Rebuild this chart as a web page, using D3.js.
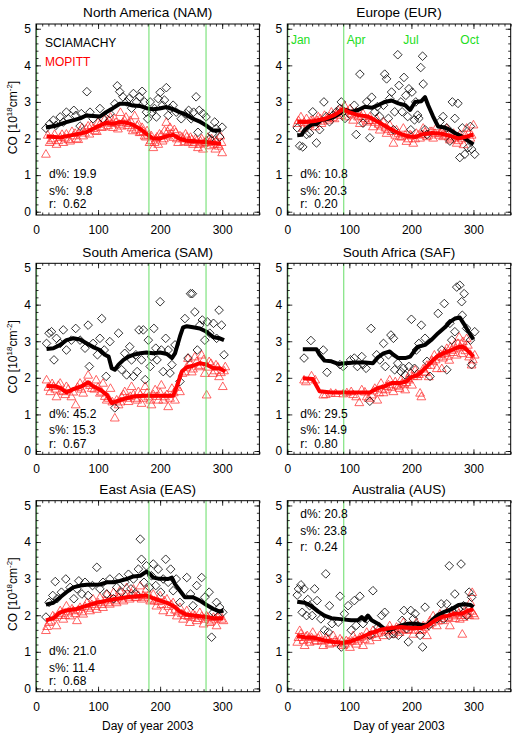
<!DOCTYPE html>
<html><head><meta charset="utf-8">
<script src="https://cdn.jsdelivr.net/npm/d3@7"></script>
<style>
body{margin:0;background:#fff;}
text{font-family:"Liberation Sans",Arial,Helvetica,sans-serif;}
</style>
</head><body>
<svg id="chart" width="517" height="736"></svg>
<script>
// ---------- DATA ----------
const regionTitles = ["North America (NAM)","Europe (EUR)","South America (SAM)","South Africa (SAF)","East Asia (EAS)","Australia (AUS)"];
const statD = ["19.9","10.8","45.2","29.5","21.0","20.8"];
const statS = [" 9.8","20.3","15.3","14.9","11.4","23.8"];
const statR = ["0.62","0.20","0.67","0.80","0.68","0.24"];
const greenDays = [[182,274],[91],[182,274],[91],[182,274],[91]];
const monthNames = ["Jan","Apr","Jul","Oct"];
const monthDays = [1,91,182,274];
const xTicks = [0,100,200,300];
const yTicks = [0,1,2,3,4,5];
const legendNames = ["SCIAMACHY","MOPITT"];

// NAM
const namSciaLine = [[16,2.3],[30,2.34],[49,2.45],[71,2.55],[81,2.63],[103,2.6],[113,2.72],[124,2.83],[135,2.95],[146,2.95],[156,2.9],[167,2.89],[178,2.83],[189,2.8],[199,2.82],[210,2.86],[221,2.8],[231,2.72],[242,2.65],[253,2.54],[263,2.47],[274,2.36],[285,2.22],[298,2.22]];
const namMopLine = [[17,2.06],[39,2.03],[60,2.1],[81,2.17],[97,2.31],[113,2.43],[124,2.4],[135,2.45],[146,2.43],[156,2.38],[167,2.27],[178,2.13],[189,2.0],[199,2.0],[210,2.06],[221,2.1],[231,2.0],[242,1.94],[263,1.92],[285,1.88],[298,1.86]];
const namSciaPts = [[16,2.28],[22,2.4],[28,2.5],[32,2.36],[39,2.59],[44,2.45],[49,2.72],[52,2.54],[61,2.77],[64,2.63],[71,2.34],[73,2.68],[82,3.28],[87,2.72],[92,2.54],[103,2.82],[108,2.54],[119,2.68],[127,2.95],[131,3.44],[135,3.28],[140,3.14],[146,3.0],[150,3.09],[154,2.83],[157,3.23],[162,3.0],[167,3.14],[171,3.29],[175,3.0],[178,2.72],[180,2.54],[184,3.0],[187,2.72],[191,2.82],[194,2.59],[197,3.09],[200,3.26],[204,2.91],[207,3.05],[210,3.39],[213,2.63],[216,2.82],[221,2.91],[226,2.72],[234,2.54],[242,2.68],[246,2.77],[250,2.54],[254,2.72],[258,3.14],[261,2.17],[263,2.77],[269,2.68],[274,2.59],[280,1.99],[284,2.13],[288,2.45],[290,2.27],[296,2.04],[300,2.31]];
const namMopPts = [[16,1.58],[22,1.9],[28,2.0],[33,1.85],[39,2.04],[44,1.9],[49,2.13],[55,1.94],[60,2.08],[65,2.0],[71,2.22],[76,2.08],[81,2.27],[86,2.13],[89,2.36],[95,2.22],[100,2.45],[106,2.31],[111,2.54],[116,2.36],[120,2.59],[124,2.31],[129,2.45],[132,2.27],[136,2.72],[140,2.45],[145,2.59],[148,2.36],[152,2.5],[156,2.22],[159,2.63],[163,2.36],[167,2.17],[171,2.31],[175,2.08],[179,2.22],[183,1.9],[186,2.08],[189,1.76],[193,2.0],[197,1.85],[199,2.13],[204,1.94],[207,2.22],[210,2.45],[213,2.08],[216,2.31],[221,2.04],[225,2.17],[229,1.9],[232,2.08],[237,2.0],[241,2.13],[245,1.9],[249,2.04],[253,1.85],[257,2.0],[261,1.76],[265,1.94],[269,1.72],[273,1.9],[277,2.04],[281,1.81],[285,1.94],[289,1.72],[293,1.85],[297,2.08],[300,1.62]];
const namMopPtsB = [[19,2.1],[25,1.95],[30,2.12],[36,1.95],[42,2.12],[47,2.02],[52,1.98],[58,2.2],[63,2.15],[68,1.98],[74,2.3],[79,2.16],[84,2.35],[92,2.28],[98,2.2],[103,2.4],[109,2.33],[114,2.45],[118,2.5],[122,2.42],[127,2.55],[134,2.4],[138,2.35],[143,2.5],[150,2.42],[154,2.3],[161,2.25],[165,2.4],[169,2.18],[173,2.2],[177,2.05],[181,2.1],[185,1.95],[191,1.9],[195,2.05],[202,2.1],[206,2.0],[212,2.2],[218,2.15],[223,2.25],[227,2.0],[235,2.05],[239,1.92],[243,2.05],[247,1.95],[251,1.98],[255,1.9],[259,1.95],[263,1.85],[267,2.0],[271,1.88],[275,1.95],[279,1.9],[283,2.0],[287,1.85],[291,1.95],[295,1.8],[299,1.9]];

// EUR
const eurSciaLine = [[16,2.09],[23,2.1],[28,2.24],[39,2.38],[47,2.39],[55,2.51],[66,2.54],[76,2.6],[85,2.69],[90,2.8],[103,2.73],[114,2.78],[125,2.87],[136,2.84],[146,2.91],[157,3.0],[168,3.04],[179,2.96],[190,2.91],[198,2.78],[206,3.0],[216,3.02],[222,3.13],[227,2.91],[235,2.6],[243,2.33],[254,2.3],[262,2.24],[270,2.15],[281,2.06],[292,1.93],[300,1.84]];
const eurMopLine = [[16,2.46],[28,2.45],[44,2.48],[60,2.54],[76,2.64],[90,2.8],[98,2.73],[114,2.64],[130,2.6],[146,2.46],[163,2.29],[179,2.15],[195,2.06],[206,2.04],[216,2.11],[233,2.15],[249,2.13],[265,2.06],[276,2.0],[286,2.04],[300,2.11]];
const eurSciaPts = [[16,2.29],[20,1.8],[25,1.77],[31,2.11],[36,2.15],[41,2.73],[47,1.88],[52,2.24],[59,3.0],[63,2.6],[68,2.46],[74,2.64],[79,2.73],[85,2.82],[87,3.0],[90,2.73],[93,2.55],[108,2.91],[111,2.11],[117,3.76],[122,2.42],[128,3.0],[133,2.02],[136,3.13],[141,2.73],[145,2.87],[149,2.6],[155,2.91],[157,3.76],[160,3.63],[163,2.55],[165,3.09],[168,3.27],[171,2.24],[173,2.73],[178,4.29],[180,3.45],[183,3.0],[185,2.73],[188,3.67],[191,3.18],[194,2.6],[196,3.36],[199,2.24],[201,3.27],[205,2.51],[207,3.0],[210,2.64],[212,2.55],[215,3.94],[218,4.25],[219,3.49],[222,2.24],[225,2.11],[246,2.46],[251,2.6],[257,2.29],[262,1.93],[266,3.0],[270,2.55],[275,2.96],[278,1.48],[282,2.29],[286,1.57],[291,1.75],[295,2.33],[297,1.71],[302,1.57]];
const eurMopPts = [[16,2.42],[22,2.6],[25,2.29],[31,2.55],[36,2.38],[41,2.51],[45,2.33],[50,2.6],[55,2.42],[60,2.64],[66,2.51],[71,2.73],[76,2.55],[82,2.78],[87,2.64],[92,2.91],[95,2.6],[101,2.82],[106,2.51],[111,2.73],[117,2.42],[122,2.69],[128,2.46],[133,2.6],[138,2.33],[144,2.55],[149,2.24],[155,2.46],[160,2.15],[165,2.38],[171,1.88],[176,2.24],[181,2.06],[187,2.29],[192,1.93],[198,2.11],[203,1.88],[208,2.15],[214,2.02],[219,2.29],[225,2.06],[230,2.2],[235,2.02],[241,2.33],[246,2.15],[251,2.06],[257,2.29],[262,1.97],[268,2.15],[273,1.88],[278,2.11],[284,1.84],[289,2.29],[295,2.02],[300,2.38]];
const eurMopPtsB = [[18,2.5],[27,2.45],[33,2.4],[38,2.5],[43,2.45],[48,2.5],[53,2.55],[57,2.48],[63,2.55],[68,2.6],[73,2.58],[79,2.68],[84,2.7],[89,2.8],[97,2.75],[103,2.68],[108,2.65],[114,2.6],[119,2.62],[125,2.55],[131,2.5],[136,2.5],[141,2.45],[147,2.4],[152,2.35],[158,2.3],[163,2.25],[168,2.2],[174,2.1],[179,2.15],[184,2.05],[190,2.1],[195,2.0],[200,2.08],[206,2.0],[211,2.1],[217,2.12],[222,2.18],[228,2.1],[233,2.2],[238,2.15],[244,2.1],[249,2.2],[254,2.1],[260,2.05],[265,2.0],[270,2.05],[276,1.95],[281,2.0],[287,2.1],[292,2.15],[297,2.1]];

// SAM
const samSciaLine = [[17,2.79],[28,2.81],[39,2.9],[49,3.03],[60,3.08],[71,3.05],[82,2.94],[92,2.84],[103,2.76],[111,2.63],[117,2.58],[122,2.26],[127,2.22],[133,2.36],[141,2.49],[149,2.58],[157,2.63],[168,2.67],[178,2.69],[189,2.67],[200,2.69],[211,2.65],[219,2.54],[224,2.67],[232,3.13],[237,3.38],[243,3.41],[253,3.38],[264,3.35],[275,3.26],[286,3.11],[296,3.08],[303,3.03]];
const samMopLine = [[17,1.78],[31,1.77],[39,1.72],[49,1.6],[60,1.69],[74,1.77],[84,1.88],[92,1.77],[103,1.68],[114,1.54],[122,1.31],[130,1.36],[141,1.42],[157,1.49],[173,1.51],[189,1.51],[205,1.51],[221,1.51],[227,1.77],[235,2.17],[243,2.29],[253,2.33],[264,2.4],[275,2.36],[286,2.26],[296,2.26],[305,2.17]];
const samSciaPts = [[17,2.94],[21,3.22],[25,3.26],[29,2.49],[33,3.08],[39,2.94],[44,3.31],[49,2.76],[57,3.03],[64,3.35],[71,3.03],[79,2.81],[84,3.44],[86,2.31],[92,2.94],[99,2.63],[103,3.08],[106,3.62],[110,2.76],[113,2.04],[119,2.99],[127,1.18],[133,3.22],[138,2.22],[143,2.67],[146,2.08],[151,2.85],[154,2.49],[157,2.04],[161,2.63],[163,2.17],[166,3.31],[170,2.49],[173,3.31],[176,1.95],[181,3.03],[184,2.31],[186,2.58],[190,3.35],[193,2.81],[195,2.49],[200,4.08],[202,2.76],[205,2.17],[209,3.08],[213,2.76],[216,2.13],[219,2.36],[224,2.9],[232,1.9],[240,3.62],[245,2.54],[249,4.3],[252,4.3],[256,3.8],[260,2.76],[264,3.44],[268,3.58],[272,3.03],[276,3.53],[280,3.22],[286,3.49],[291,3.08],[295,3.85],[299,3.44],[303,2.63]];
const samMopPts = [[17,1.95],[23,1.63],[28,1.77],[33,1.49],[39,1.86],[44,1.63],[49,1.77],[57,1.49],[64,1.27],[71,1.86],[76,1.59],[84,2.08],[90,1.72],[97,1.95],[103,1.59],[108,1.86],[114,1.4],[120,1.72],[127,0.91],[133,1.27],[138,1.49],[143,1.63],[149,1.36],[154,1.77],[160,1.45],[165,1.63],[170,1.31],[176,1.77],[181,1.49],[186,1.27],[192,1.68],[197,1.4],[202,1.81],[208,1.49],[213,1.22],[219,1.72],[224,1.4],[232,1.63],[236,2.13],[240,2.17],[245,2.54],[251,2.17],[256,2.58],[262,2.31],[267,2.63],[272,2.13],[275,1.54],[279,2.45],[285,2.13],[290,2.36],[295,2.04],[301,1.77],[305,2.31]];
const samMopPtsB = [[20,1.75],[26,1.85],[31,1.7],[36,1.8],[41,1.65],[47,1.55],[52,1.7],[60,1.62],[67,1.75],[73,1.7],[79,1.85],[87,1.8],[94,1.7],[100,1.75],[106,1.62],[111,1.5],[117,1.45],[123,1.35],[130,1.4],[136,1.35],[141,1.55],[147,1.45],[152,1.5],[157,1.55],[163,1.4],[168,1.55],[173,1.45],[179,1.6],[184,1.4],[189,1.55],[195,1.5],[200,1.6],[205,1.4],[211,1.55],[216,1.45],[222,1.6],[228,1.75],[243,2.3],[248,2.4],[253,2.25],[259,2.45],[265,2.35],[270,2.5],[277,2.3],[282,2.4],[288,2.2],[293,2.3],[298,2.15],[303,2.2]];

// SAF
const safSciaLine = [[25,2.78],[47,2.78],[52,2.63],[60,2.47],[71,2.45],[82,2.38],[93,2.4],[109,2.42],[125,2.42],[138,2.4],[146,2.56],[155,2.67],[165,2.72],[171,2.63],[179,2.54],[190,2.54],[198,2.58],[206,2.76],[211,2.85],[222,2.9],[233,3.05],[243,3.22],[254,3.38],[262,3.53],[270,3.62],[278,3.65],[284,3.49],[292,3.26],[300,3.05]];
const safMopLine = [[25,1.99],[41,1.97],[52,1.63],[71,1.6],[93,1.6],[114,1.6],[133,1.6],[146,1.72],[157,1.77],[168,1.86],[181,1.86],[192,1.9],[200,2.02],[211,2.08],[222,2.26],[233,2.45],[243,2.6],[254,2.69],[265,2.76],[276,2.84],[284,2.84],[292,2.72],[300,2.58]];
const safSciaPts = [[27,2.54],[38,3.02],[58,2.76],[64,2.15],[85,2.36],[90,2.31],[102,2.49],[108,2.54],[113,2.31],[120,2.58],[122,2.36],[127,2.26],[133,1.36],[135,3.35],[144,2.63],[149,2.49],[155,2.94],[158,2.31],[163,2.63],[167,3.17],[171,3.08],[173,2.22],[178,2.4],[183,2.17],[187,2.26],[190,2.08],[196,2.31],[200,3.6],[205,2.26],[208,2.76],[212,2.94],[216,3.44],[222,3.08],[225,2.45],[230,2.04],[243,3.76],[249,2.76],[253,4.03],[257,2.22],[262,3.49],[265,3.03],[270,3.26],[273,4.48],[278,4.53],[281,4.08],[282,3.71],[285,4.3],[289,3.35],[295,3.03],[297,2.36],[302,3.26]];
const safMopPts = [[27,1.95],[39,2.06],[58,1.54],[70,1.59],[90,1.57],[103,1.63],[111,1.49],[116,1.33],[120,1.68],[128,1.49],[136,1.54],[141,1.72],[145,1.4],[151,1.86],[155,1.6],[160,1.77],[165,1.95],[171,1.63],[176,1.81],[181,1.72],[185,1.86],[190,1.68],[194,1.99],[198,2.13],[201,1.81],[206,2.22],[210,2.04],[214,1.59],[216,1.49],[221,2.17],[225,2.35],[228,2.04],[233,2.49],[237,2.63],[241,2.26],[244,2.58],[249,2.26],[253,2.67],[257,2.81],[261,2.49],[265,2.76],[269,2.9],[273,2.63],[277,3.12],[281,2.67],[285,2.85],[289,3.08],[293,2.58],[297,2.36],[302,2.63]];
const safMopPtsB = [[30,1.9],[45,1.95],[62,1.55],[78,1.58],[96,1.6],[106,1.55],[125,1.62],[131,1.45],[139,1.65],[148,1.6],[153,1.7],[158,1.68],[163,1.82],[168,1.75],[174,1.9],[179,1.78],[183,1.95],[188,1.82],[192,1.88],[196,1.95],[203,2.05],[208,2.1],[212,2.1],[219,2.25],[223,2.15],[231,2.35],[235,2.45],[239,2.5],[247,2.65],[251,2.55],[255,2.72],[259,2.6],[263,2.85],[267,2.7],[271,2.8],[275,2.95],[279,2.85],[283,3.0],[287,2.75],[291,2.9],[295,2.65],[299,2.5]];

// EAS
const easSciaLine = [[16,2.29],[28,2.34],[39,2.49],[49,2.63],[60,2.76],[71,2.81],[82,2.83],[92,2.83],[103,2.84],[114,2.9],[125,2.9],[135,2.94],[146,2.99],[157,3.06],[168,3.08],[178,3.19],[184,3.12],[189,3.03],[197,3.0],[205,3.0],[213,2.99],[219,3.03],[224,2.85],[232,2.67],[240,2.49],[245,2.49],[253,2.49],[264,2.4],[275,2.28],[286,2.17],[296,2.1],[302,2.13]];
const easMopLine = [[16,1.86],[28,1.92],[39,2.08],[49,2.13],[65,2.17],[82,2.26],[98,2.34],[114,2.4],[130,2.45],[146,2.49],[162,2.52],[178,2.54],[189,2.46],[200,2.4],[211,2.34],[221,2.26],[232,2.1],[243,2.01],[253,1.99],[264,1.97],[275,1.95],[286,1.92],[296,1.92],[302,1.92]];
const easSciaPts = [[16,1.95],[21,2.35],[27,2.54],[31,2.92],[34,2.45],[41,2.63],[48,2.99],[55,2.76],[61,2.45],[66,2.72],[69,2.94],[74,2.58],[79,2.9],[84,2.54],[91,2.81],[98,3.31],[103,2.72],[108,2.9],[114,2.58],[119,2.99],[125,2.45],[130,2.76],[134,3.03],[138,2.63],[143,2.9],[149,3.12],[153,2.72],[157,2.99],[161,2.58],[165,3.26],[168,4.08],[170,3.53],[174,2.9],[178,3.35],[183,2.76],[186,3.08],[189,3.4],[193,2.81],[197,3.26],[201,2.63],[205,2.99],[209,3.53],[213,2.9],[217,3.26],[221,2.67],[226,2.99],[232,2.35],[243,3.03],[249,2.58],[253,2.26],[259,2.81],[267,3.03],[272,2.49],[279,2.63],[283,1.4],[286,2.08],[291,2.35],[296,2.22],[301,2.08]];
const easMopPts = [[16,1.59],[21,1.81],[27,1.99],[33,1.72],[39,2.13],[44,1.9],[49,2.26],[55,1.99],[60,2.13],[66,1.86],[71,2.22],[76,2.04],[82,2.35],[87,2.13],[92,2.45],[98,2.17],[103,2.49],[108,2.22],[114,2.58],[119,2.31],[125,2.63],[130,2.35],[135,2.67],[141,2.4],[146,2.76],[151,2.45],[157,2.72],[162,2.49],[168,2.81],[173,2.54],[178,2.72],[184,2.4],[189,2.58],[194,2.26],[200,2.54],[205,2.13],[211,2.45],[216,2.08],[221,2.35],[227,1.99],[232,2.22],[237,1.9],[243,2.13],[248,1.81],[253,2.04],[259,1.86],[264,2.08],[270,1.77],[275,1.99],[280,1.81],[286,1.95],[291,1.72],[296,2.04],[302,1.86]];
const easMopPtsB = [[18,1.7],[24,1.85],[30,1.95],[36,2.0],[42,2.05],[47,2.0],[52,2.1],[58,2.18],[63,2.05],[68,2.15],[74,2.1],[79,2.25],[85,2.2],[90,2.3],[95,2.25],[100,2.35],[106,2.3],[111,2.4],[116,2.35],[122,2.45],[128,2.4],[133,2.5],[138,2.45],[144,2.55],[149,2.5],[154,2.6],[160,2.5],[165,2.55],[170,2.45],[176,2.5],[181,2.55],[186,2.45],[191,2.4],[197,2.38],[202,2.3],[207,2.4],[213,2.25],[218,2.3],[224,2.15],[229,2.1],[235,2.05],[240,2.0],[245,1.98],[251,1.95],[256,2.0],[261,1.92],[267,1.98],[272,1.9],[277,1.95],[283,1.85],[288,1.9],[293,1.95],[299,1.9]];

// AUS
const ausSciaLine = [[16,2.37],[28,2.34],[39,2.25],[50,2.1],[60,1.99],[71,1.92],[82,1.9],[93,1.88],[103,1.86],[114,1.86],[120,1.95],[125,1.86],[130,1.99],[136,1.86],[146,1.77],[155,1.65],[163,1.59],[173,1.65],[184,1.72],[195,1.77],[206,1.77],[216,1.74],[225,1.72],[233,1.86],[243,2.01],[254,2.1],[265,2.17],[276,2.28],[286,2.3],[295,2.28],[300,2.22]];
const ausMopLine = [[16,1.43],[28,1.4],[44,1.38],[60,1.31],[76,1.27],[90,1.25],[103,1.29],[120,1.4],[136,1.52],[152,1.61],[168,1.65],[184,1.68],[200,1.65],[216,1.65],[227,1.72],[238,1.86],[249,1.95],[260,1.99],[270,2.04],[281,2.04],[292,2.13],[300,2.16]];
const ausSciaPts = [[16,2.55],[18,2.72],[22,2.83],[24,2.08],[27,2.72],[31,1.99],[33,2.43],[36,2.26],[40,1.99],[44,2.72],[48,2.4],[54,1.9],[60,1.59],[62,3.13],[66,1.54],[68,2.26],[72,1.77],[82,1.81],[85,2.52],[87,1.13],[92,2.04],[98,2.26],[103,1.59],[108,2.4],[111,1.72],[117,2.52],[122,1.77],[128,1.9],[133,1.45],[138,2.67],[146,1.68],[152,1.99],[157,2.08],[164,1.45],[171,1.49],[179,1.45],[185,1.86],[188,2.13],[192,1.63],[195,1.27],[199,2.13],[203,1.9],[206,2.04],[210,1.72],[214,1.45],[218,1.13],[222,2.22],[228,1.72],[241,1.9],[248,2.31],[252,1.9],[257,2.31],[261,3.35],[265,2.13],[270,2.58],[276,2.17],[280,3.4],[284,2.26],[289,1.99],[293,2.63],[297,2.49]];
const ausMopPts = [[16,1.27],[20,1.59],[24,1.4],[28,1.18],[32,1.45],[36,1.27],[41,1.54],[47,1.31],[52,1.45],[58,1.18],[63,1.4],[68,1.22],[74,1.45],[79,1.27],[85,1.36],[90,1.18],[95,1.31],[101,1.13],[106,1.45],[111,1.22],[117,1.4],[122,1.18],[128,1.54],[133,1.31],[138,1.59],[144,1.4],[149,1.68],[155,1.45],[160,1.59],[165,1.72],[171,1.49],[176,1.68],[181,1.54],[187,1.81],[192,1.59],[198,1.72],[203,1.49],[208,1.81],[214,1.59],[219,1.72],[225,1.45],[230,1.86],[235,1.99],[241,1.72],[246,2.04],[251,1.86],[257,2.08],[262,1.72],[268,1.99],[273,2.17],[278,1.9],[282,1.49],[286,2.13],[291,2.04],[295,2.36],[298,2.63],[302,1.99]];
const ausMopPtsB = [[18,1.4],[22,1.5],[26,1.32],[30,1.42],[34,1.35],[39,1.4],[44,1.3],[50,1.38],[55,1.3],[61,1.32],[66,1.35],[71,1.25],[77,1.32],[82,1.25],[88,1.3],[93,1.22],[98,1.28],[104,1.3],[109,1.35],[114,1.3],[120,1.42],[125,1.35],[131,1.45],[136,1.48],[141,1.5],[147,1.52],[152,1.58],[158,1.55],[163,1.6],[168,1.62],[174,1.58],[179,1.65],[184,1.62],[190,1.7],[195,1.62],[200,1.68],[206,1.6],[211,1.7],[217,1.62],[222,1.68],[228,1.75],[233,1.8],[238,1.9],[243,1.85],[249,1.98],[254,1.92],[260,1.95],[265,2.02],[270,1.92],[276,2.05],[280,2.0],[284,1.95],[289,2.1],[293,2.0],[297,2.12],[300,2.05]];

const sciaLines = [namSciaLine,eurSciaLine,samSciaLine,safSciaLine,easSciaLine,ausSciaLine];
const mopLines = [namMopLine,eurMopLine,samMopLine,safMopLine,easMopLine,ausMopLine];
const sciaPts = [namSciaPts,eurSciaPts,samSciaPts,safSciaPts,easSciaPts,ausSciaPts];
const mopPts = [namMopPts.concat(namMopPtsB),eurMopPts.concat(eurMopPtsB),samMopPts.concat(samMopPtsB),
                safMopPts.concat(safMopPtsB),easMopPts.concat(easMopPtsB),ausMopPts.concat(ausMopPtsB)];

// ---------- LAYOUT ----------
const colX = [36, 287.3];
const rowY = [24, 263.3, 500.7];
const PW = 223.4, PH = 191;
const GREEN_LINE = "#66dd66", GREEN_TXT = "#22dd22";

const svg = d3.select("#chart");
svg.append("rect").attr("width",517).attr("height",736).attr("fill","#fff");

const diamondPath = "M0,-4.3L4.3,0L0,4.3L-4.3,0Z";
const trianglePath = "M0,-4.3L4.4,3.3L-4.4,3.3Z";

regionTitles.forEach((title, i) => {
  const col = i % 2, row = Math.floor(i / 2);
  const x0 = colX[col], y0 = rowY[row];
  const x = d3.scaleLinear().domain([0,360]).range([x0, x0+PW]);
  const y = d3.scaleLinear().domain([-0.09,5.13]).range([y0+PH, y0]);
  const g = svg.append("g");

  // scatter
  g.append("g").selectAll("path").data(mopPts[i]).join("path")
    .attr("d", trianglePath)
    .attr("transform", d => `translate(${x(d[0])},${y(d[1])})`)
    .attr("fill","none").attr("stroke","#ff3030").attr("stroke-width",0.75);
  g.append("g").selectAll("path").data(sciaPts[i]).join("path")
    .attr("d", diamondPath)
    .attr("transform", d => `translate(${x(d[0])},${y(d[1])})`)
    .attr("fill","none").attr("stroke","#000").attr("stroke-width",0.8);

  const line = d3.line().x(d => x(d[0])).y(d => y(d[1]));
  g.append("path").datum(sciaLines[i]).attr("d", line)
    .attr("fill","none").attr("stroke","#000").attr("stroke-width",4).attr("stroke-linejoin","round");
  g.append("path").datum(mopLines[i]).attr("d", line)
    .attr("fill","none").attr("stroke","#ff0000").attr("stroke-width",4).attr("stroke-linejoin","round");

  // green month lines
  [1].concat(greenDays[i]).forEach(dd => {
    g.append("line").attr("x1",x(dd)).attr("x2",x(dd)).attr("y1",y0).attr("y2",y0+PH)
      .attr("stroke",GREEN_LINE).attr("stroke-width",1);
  });

  // axes: ticks inward on all sides
  const minorX = d3.range(0,361,10), minorY = d3.range(0,5.01,0.2);
  const addAxis = (axis, tf) => {
    const a = g.append("g").attr("transform", tf).call(axis);
    a.select(".domain").remove();
    a.selectAll("line").attr("stroke","#000").attr("stroke-width",0.8);
    return a;
  };
  addAxis(d3.axisBottom(x).tickValues(minorX).tickSize(-2.5).tickFormat(""), `translate(0,${y0+PH})`);
  addAxis(d3.axisTop(x).tickValues(minorX).tickSize(-2.5).tickFormat(""), `translate(0,${y0})`);
  addAxis(d3.axisLeft(y).tickValues(minorY).tickSize(-2.5).tickFormat(""), `translate(${x0},0)`);
  addAxis(d3.axisRight(y).tickValues(minorY).tickSize(-2.5).tickFormat(""), `translate(${x0+PW},0)`);
  const bx = addAxis(d3.axisBottom(x).tickValues(xTicks).tickSize(-5).tickPadding(10.5).tickFormat(d3.format("d")), `translate(0,${y0+PH})`);
  addAxis(d3.axisTop(x).tickValues(xTicks).tickSize(-5).tickFormat(""), `translate(0,${y0})`);
  const ly = addAxis(d3.axisLeft(y).tickValues(yTicks).tickSize(-5).tickPadding(5).tickFormat(d3.format("d")), `translate(${x0},0)`);
  addAxis(d3.axisRight(y).tickValues(yTicks).tickSize(-5).tickFormat(""), `translate(${x0+PW},0)`);
  [bx, ly].forEach(a => a.selectAll("text").attr("font-size",12).attr("fill","#000")
      .attr("font-family",'"Liberation Sans",Arial,sans-serif'));

  // frame
  g.append("rect").attr("x",x0).attr("y",y0).attr("width",PW).attr("height",PH)
    .attr("fill","none").attr("stroke","#000").attr("stroke-width",1);

  // title
  g.append("text").attr("x", x0+PW/2).attr("y", y0-6.7).attr("text-anchor","middle")
    .attr("font-size",13.6).text(title);

  // stats
  const statsTop = (i === 5);
  const sy = statsTop ? [y0+17.6, y0+34.3, y0+50.3] : [y0+PH-36.7, y0+PH-20, y0+PH-6.7];
  const sLines = ["d%: "+statD[i], "s%: "+statS[i], "r:  "+statR[i]];
  sLines.forEach((s,k) => {
    g.append("text").attr("x", x0+13).attr("y", sy[k]).attr("font-size",12)
      .style("white-space","pre").text(s);
  });

  // legend (NAM only)
  if (i === 0) {
    g.append("text").attr("x", x0+9).attr("y", y0+22.7).attr("font-size",12).attr("fill","#000").text(legendNames[0]);
    g.append("text").attr("x", x0+9).attr("y", y0+41.7).attr("font-size",12).attr("fill","#ff0000").text(legendNames[1]);
  }
  // month labels (EUR only)
  if (i === 1) {
    monthNames.forEach((m,k) => {
      g.append("text").attr("x", x(monthDays[k])+3).attr("y", y0+19.5).attr("font-size",12)
        .attr("fill",GREEN_TXT).text(m);
    });
  }
  // y-axis title (left column)
  if (col === 0) {
    const t = g.append("text").attr("transform", `translate(17,${y0+PH/2-2}) rotate(-90)`)
      .attr("text-anchor","middle").attr("font-size",12);
    t.append("tspan").text("CO [10");
    t.append("tspan").attr("font-size",8).attr("dy",-5).text("18");
    t.append("tspan").attr("dy",5).text("cm");
    t.append("tspan").attr("font-size",8).attr("dy",-5).text("-2");
    t.append("tspan").attr("dy",5).text("]");
  }
  // x-axis title (bottom row)
  if (row === 2) {
    g.append("text").attr("x", x0+PW/2).attr("y", 729.5).attr("text-anchor","middle")
      .attr("font-size",12).text("Day of year 2003");
  }
});
</script>
</body></html>
